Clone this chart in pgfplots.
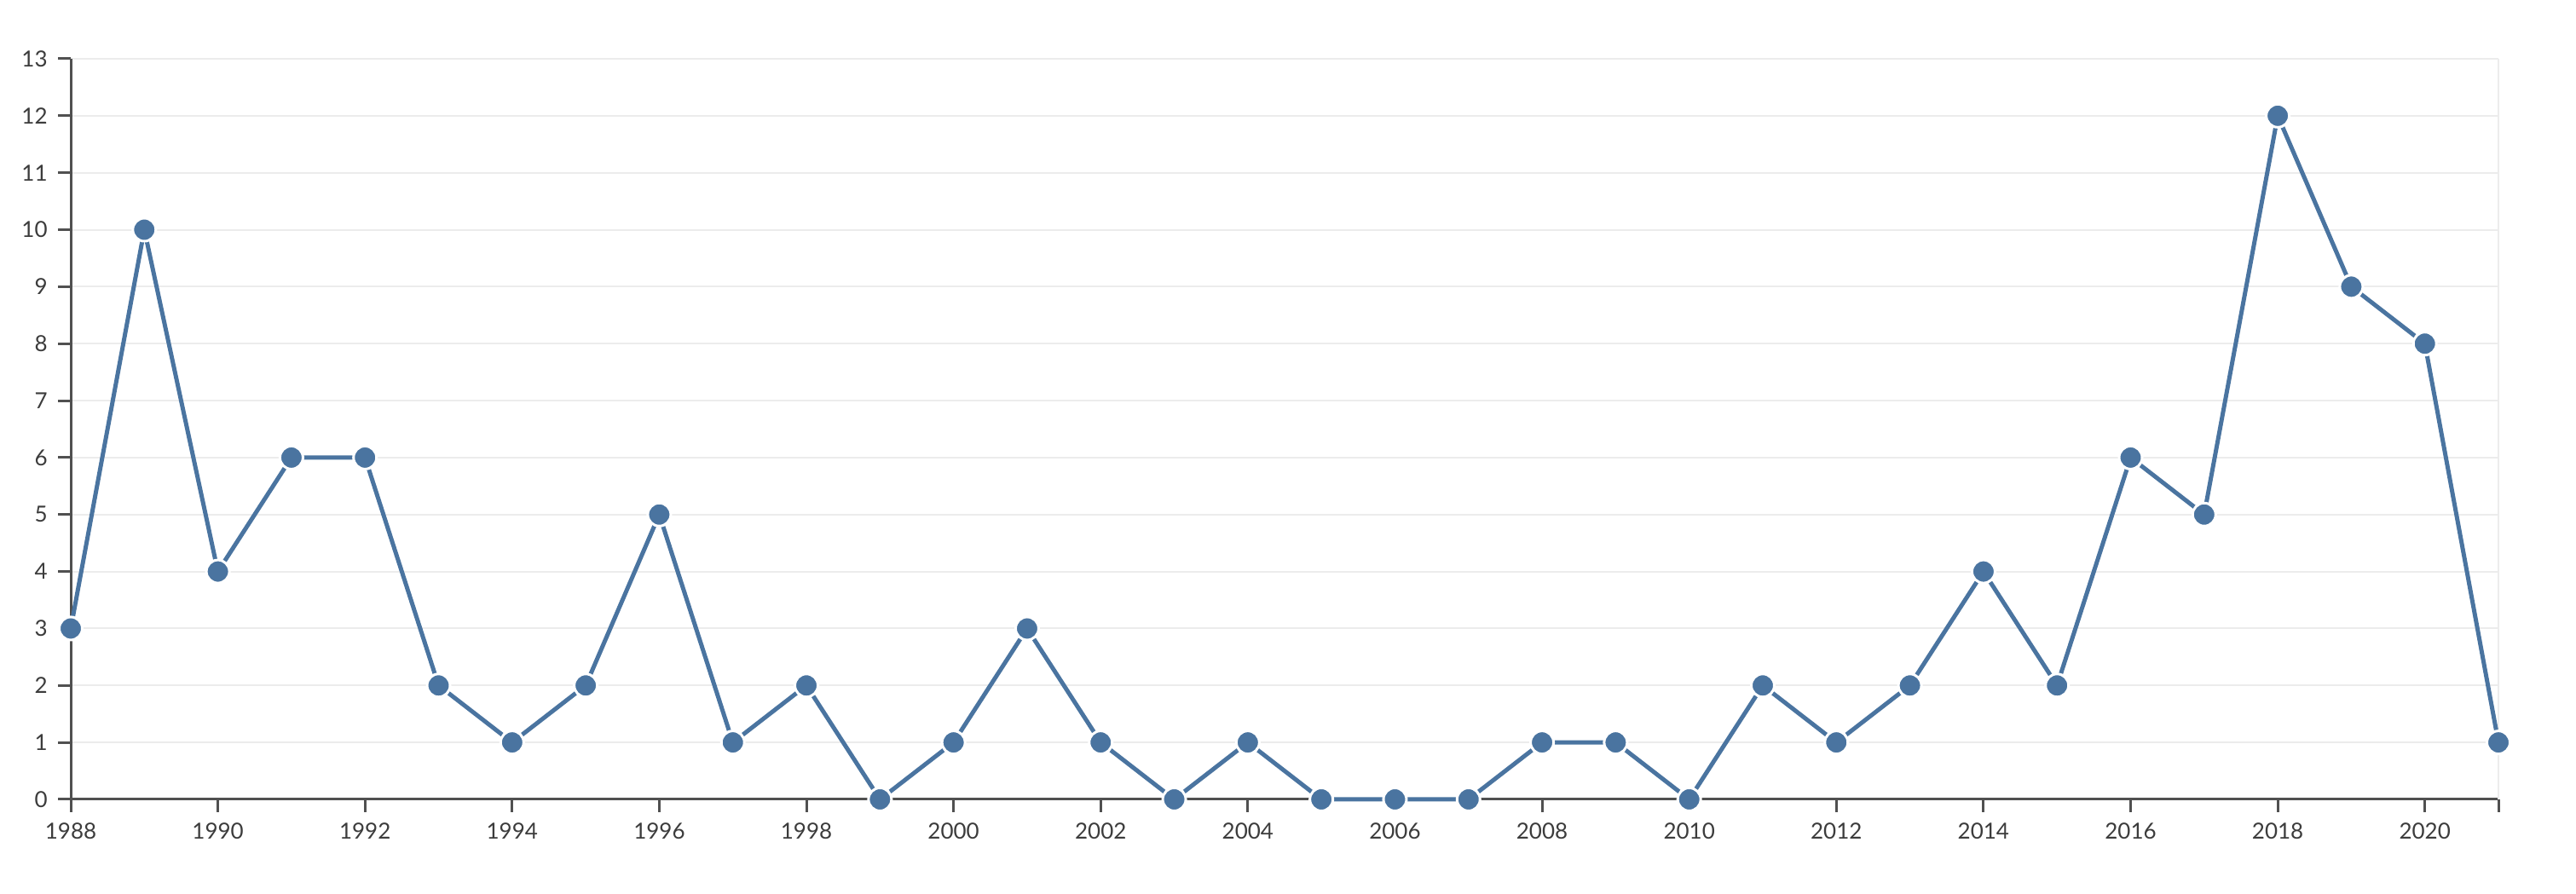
\documentclass[border=0pt]{standalone}
\usepackage{fontspec}
\setmainfont{Lato}
\usepackage{pgfplots}
\pgfplotsset{compat=1.18}
\usetikzlibrary{calc}

\definecolor{line}{RGB}{74,116,160}
\definecolor{axisgray}{RGB}{80,80,80}
\definecolor{labgray}{RGB}{60,60,60}
\definecolor{gridgray}{RGB}{236,236,236}

\begin{document}
\begin{tikzpicture}
  \begin{axis}[
    name=ax,
    scale only axis,
    width=284.8mm, height=86.9mm,
    xmin=1988, xmax=2021,
    ymin=0, ymax=13,
    axis lines*=left,
    axis line style={axisgray, line width=0.3mm, -},
    xtick={1988,1990,...,2020,2021},
    xticklabels={1988,1990,1992,1994,1996,1998,2000,2002,2004,2006,2008,2010,2012,2014,2016,2018,2020,},
    ytick={0,1,...,13},
    tick align=outside,
    major tick length=1.5mm,
    tick style={axisgray, line width=0.3mm},
    ymajorgrids,
    grid style={gridgray, line width=0.2mm},
    tick label style={font=\fontsize{7.4}{8}\selectfont, text=labgray},
    /pgf/number format/assume math mode=true,
    /pgf/number format/set thousands separator={},
    clip=false,
  ]
  % faint right edge
  \draw[gridgray, line width=0.2mm] (axis cs:2021,0) -- (axis cs:2021,13);

  \addplot[line, line width=0.5mm, mark=*, mark size=1.35mm,
    mark options={fill=line, draw=white, line width=0.3mm}] coordinates {
    (1988,3) (1989,10) (1990,4) (1991,6) (1992,6) (1993,2) (1994,1)
    (1995,2) (1996,5) (1997,1) (1998,2) (1999,0) (2000,1) (2001,3)
    (2002,1) (2003,0) (2004,1) (2005,0) (2006,0) (2007,0) (2008,1)
    (2009,1) (2010,0) (2011,2) (2012,1) (2013,2) (2014,4) (2015,2)
    (2016,6) (2017,5) (2018,12) (2019,9) (2020,8) (2021,1)
  };
  \end{axis}
  \path[use as bounding box] ($(ax.south west)+(-8.3mm,-11.1mm)$) rectangle ++(302.2mm,104.9mm);
\end{tikzpicture}
\end{document}
